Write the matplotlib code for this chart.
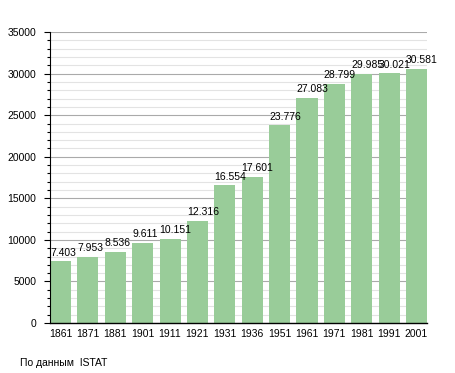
import numpy as np
import matplotlib.pyplot as plt
from matplotlib.ticker import MultipleLocator

years = ['1861', '1871', '1881', '1901', '1911', '1921', '1931', '1936',
         '1951', '1961', '1971', '1981', '1991', '2001']
pop = [7403, 7953, 8536, 9611, 10151, 12316, 16554, 17601,
       23776, 27083, 28799, 29985, 30021, 30581]
labels = ['7.403', '7.953', '8.536', '9.611', '10.151', '12.316', '16.554', '17.601',
          '23.776', '27.083', '28.799', '29.985', '30.021', '30.581']

plt.rcParams['font.family'] = ['Liberation Sans', 'DejaVu Sans']
fig = plt.figure(figsize=(4.55, 3.73), dpi=100)
ax = fig.add_axes([0.1099, 0.134, 0.8286, 0.780])

w = 0.77
x = np.arange(len(years))
ax.bar(x, pop, width=w, color='#99CC99', zorder=2)
for xi, v, t in zip(x, pop, labels):                                           # value labels above bars
    ax.text(xi - w/2, v + 450, t, ha='left', va='bottom', fontsize=7.5, zorder=3)

ax.set_xlim(-w/2, len(years) - 1 + w/2)
ax.set_ylim(0, 35000)
ax.yaxis.set_major_locator(MultipleLocator(5000))
ax.yaxis.set_minor_locator(MultipleLocator(1000))
ax.grid(which='major', axis='y', color='#aaaaaa', linewidth=0.8, zorder=0)
ax.grid(which='minor', axis='y', color='#e3e3e3', linewidth=0.8, zorder=0)
ax.set_axisbelow(True)

ax.set_xticks(x)
ax.set_xticklabels(years)
ax.tick_params(axis='x', length=0, pad=4, labelsize=7.5)
ax.tick_params(axis='y', which='major', length=4, width=0.8, pad=6, labelsize=7.5)
ax.tick_params(axis='y', which='minor', length=2.5, width=0.8)
for s in ['top', 'right']:
    ax.spines[s].set_visible(False)
ax.spines['left'].set_linewidth(0.8)
ax.spines['bottom'].set_linewidth(1.0)

fig.text(20/455, 1 - 363/373, 'По данным  ISTAT', fontsize=7.5, va='center', ha='left')

fig.savefig('out.png', dpi=100)
